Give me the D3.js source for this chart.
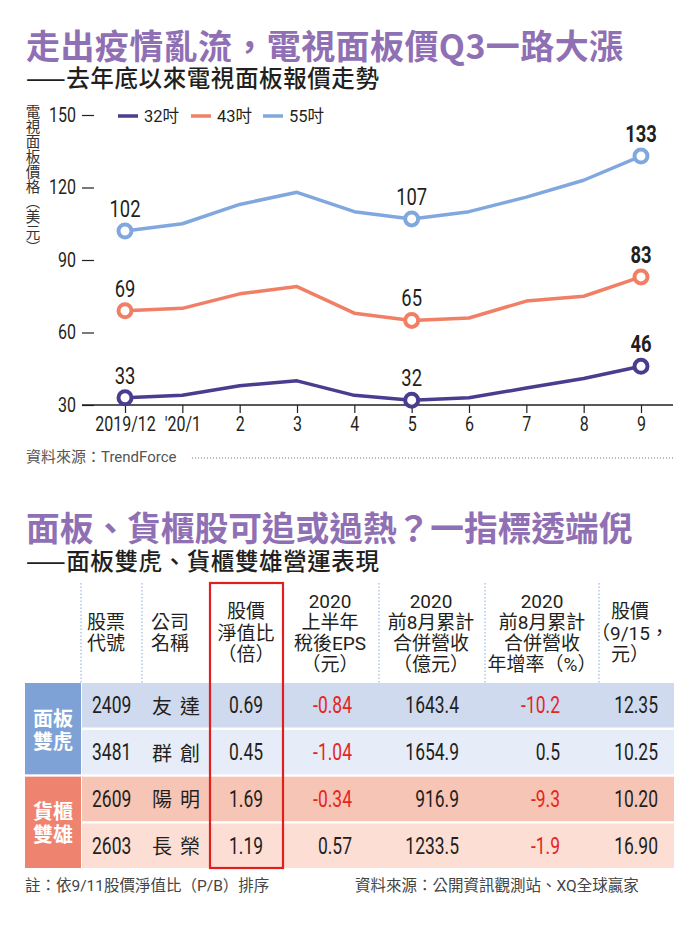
<!DOCTYPE html>
<html>
<head>
<meta charset="utf-8">
<script src="https://cdn.jsdelivr.net/npm/d3@7"></script>
<style>
html,body{margin:0;padding:0;background:#fff;}
svg{display:block;}
</style>
</head>
<body>
<div id="chart"></div>
<script>
// ---------- data: line chart ----------
const months = ["2019/12","'20/1","2","3","4","5","6","7","8","9"];
const series32 = [33, 34, 38, 40, 34, 32, 33, 37, 41, 46];
const series43 = [69, 70, 76, 79, 68, 65, 66, 73, 75, 83];
const series55 = [102, 105, 113, 118, 110, 107, 110, 116, 123, 133];
const seriesNames = ["32吋","43吋","55吋"];
const yTicks = [30, 60, 90, 120, 150];
const labeledIdx = [0, 5, 9];

// ---------- data: table ----------
const groups = ["面板雙虎","貨櫃雙雄"];
const codes = ["2409","3481","2609","2603"];
const names = ["友達","群創","陽明","長榮"];
const pbRatio = [0.69, 0.45, 1.69, 1.19];
const eps = [-0.84, -1.04, -0.34, 0.57];
const revenue = [1643.4, 1654.9, 916.9, 1233.5];
const revenueYoY = [-10.2, 0.5, -9.3, -1.9];
const price = [12.35, 10.25, 10.20, 16.90];
const headers = [
  ["股票","代號"],
  ["公司","名稱"],
  ["股價","淨值比","（倍）"],
  ["2020","上半年","稅後EPS","（元）"],
  ["2020","前8月累計","合併營收","（億元）"],
  ["2020","前8月累計","合併營收","年增率（%）"],
  ["股價","（9/15，","元）"]
];

// ---------- styles ----------
const CJK = "'Noto Sans CJK TC','Noto Sans CJK SC',sans-serif";
const NUM = "Roboto,'Noto Sans CJK TC',sans-serif";
const PURPLE = "#9070b4";
const colors = ["#4a3d8f", "#f07f66", "#80a8de"];
const RED = "#e5261f";
const INK = "#231f20";

const svg = d3.select("#chart").append("svg").attr("width", 700).attr("height", 925);

// condensed number text helper
function ctext(x, y, txt, o) {
  const t = svg.append("text")
    .attr("transform", `translate(${x},${y}) scale(${o.sx || 0.78},1)`)
    .attr("text-anchor", o.anchor || "middle")
    .attr("font-family", NUM).attr("font-size", o.size || 23)
    .attr("font-weight", o.weight || 400)
    .attr("fill", o.fill || INK).text(txt);
  if (o.central) t.attr("dominant-baseline", "central");
  return t;
}

// ---------- titles ----------
svg.append("text").attr("x", 26).attr("y", 59)
  .attr("font-family", CJK).attr("font-weight", 700).attr("font-size", 34)
  .attr("letter-spacing", 0.4)
  .attr("fill", PURPLE).text("走出疫情亂流，電視面板價Q3一路大漲");
svg.append("text").attr("x", 26).attr("y", 87)
  .attr("font-family", CJK).attr("font-weight", 500).attr("font-size", 23.5)
  .attr("letter-spacing", 0.6)
  .attr("fill", INK).text("——去年底以來電視面板報價走勢");

// ---------- line chart ----------
const x = d3.scalePoint().domain(months).range([125, 641]);
const y = d3.scaleLinear().domain([30, 150]).range([405, 115]);

// y axis
const yAxis = svg.append("g").attr("transform", "translate(94,0)")
  .call(d3.axisLeft(y).tickValues(yTicks).tickSize(12).tickPadding(6));
yAxis.select(".domain").remove();
yAxis.selectAll(".tick line").attr("stroke", INK).attr("stroke-width", 1.2);
yAxis.selectAll(".tick text").attr("font-family", NUM).attr("font-size", 20).attr("fill", INK)
  .each(function () {
    const t = d3.select(this); const xx = +t.attr("x");
    t.attr("x", 0).attr("transform", `translate(${xx},0) scale(0.8,1)`);
  });

// y title (vertical)
svg.append("text").attr("x", 33).attr("y", 104)
  .style("writing-mode", "vertical-rl")
  .attr("font-family", CJK).attr("font-size", 14.5).attr("fill", "#333")
  .attr("letter-spacing", 0.6)
  .text("電視面板價格（美元）");

// x axis
svg.append("line").attr("x1", 82).attr("x2", 673).attr("y1", 405).attr("y2", 405)
  .attr("stroke", INK).attr("stroke-width", 1.5);
const xAxis = svg.append("g").attr("transform", "translate(0,405)")
  .call(d3.axisBottom(x).tickSize(8).tickPadding(4));
xAxis.select(".domain").remove();
xAxis.selectAll(".tick line").attr("stroke", INK).attr("stroke-width", 1.2);
xAxis.selectAll(".tick text").attr("font-family", NUM).attr("font-size", 20).attr("fill", INK)
  .each(function () {
    const t = d3.select(this); const yy = +t.attr("y");
    t.attr("y", 0).attr("transform", `translate(0,${yy}) scale(0.8,1)`);
  });

// legend
const legendX = [118, 191, 263];
seriesNames.forEach((n, i) => {
  svg.append("line").attr("x1", legendX[i]).attr("x2", legendX[i] + 20)
    .attr("y1", 116).attr("y2", 116).attr("stroke", colors[i]).attr("stroke-width", 3.5);
  svg.append("text").attr("x", legendX[i] + 26).attr("y", 116)
    .attr("dominant-baseline", "central")
    .attr("font-family", NUM).attr("font-size", 16.5).attr("fill", INK).text(n);
});

// lines
const allSeries = [series32, series43, series55];
const line = d3.line().x((d, i) => x(months[i])).y(d => y(d));
allSeries.forEach((s, si) => {
  svg.append("path").datum(s).attr("d", line)
    .attr("fill", "none").attr("stroke", colors[si]).attr("stroke-width", 3.5)
    .attr("stroke-linejoin", "round");
});
allSeries.forEach((s, si) => {
  labeledIdx.forEach(i => {
    svg.append("circle").attr("cx", x(months[i])).attr("cy", y(s[i])).attr("r", 6.5)
      .attr("fill", "#fff").attr("stroke", colors[si]).attr("stroke-width", 4);
    ctext(x(months[i]), y(s[i]) - 14, s[i], { size: 23, sx: 0.8, weight: i === 9 ? 700 : 400 });
  });
});

// source
svg.append("text").attr("x", 26).attr("y", 457).attr("dominant-baseline", "central")
  .attr("font-family", NUM).attr("font-size", 15).attr("fill", "#555")
  .text("資料來源：TrendForce");
svg.append("line").attr("x1", 192).attr("x2", 673).attr("y1", 458).attr("y2", 458)
  .attr("stroke", "#777").attr("stroke-width", 1).attr("stroke-dasharray", "1,2");

// ---------- second title ----------
svg.append("text").attr("x", 26).attr("y", 541)
  .attr("font-family", CJK).attr("font-weight", 700).attr("font-size", 33.7)
  .attr("fill", PURPLE).text("面板、貨櫃股可追或過熱？一指標透端倪");
svg.append("text").attr("x", 26).attr("y", 570)
  .attr("font-family", CJK).attr("font-weight", 500).attr("font-size", 23.5)
  .attr("letter-spacing", 0.6)
  .attr("fill", INK).text("——面板雙虎、貨櫃雙雄營運表現");

// ---------- table ----------
const headerX = [106, 170, 246, 330, 431, 542, 630];
const sepX = [81, 142, 379, 485, 599];
sepX.forEach(sx => {
  svg.append("line").attr("x1", sx).attr("x2", sx).attr("y1", 583).attr("y2", 683)
    .attr("stroke", "#86a9dd").attr("stroke-width", 1).attr("stroke-dasharray", "1.5,2");
});
const HC = 633, LH = 21.3;
headers.forEach((lines, ci) => {
  lines.forEach((ln, li) => {
    svg.append("text").attr("x", headerX[ci])
      .attr("y", HC + (li - (lines.length - 1) / 2) * LH)
      .attr("text-anchor", "middle").attr("dominant-baseline", "central")
      .attr("font-family", NUM).attr("font-size", 19).attr("fill", INK).text(ln);
  });
});

const rowY = d3.scaleBand().domain(codes).range([683, 868]).paddingInner(0.05);
const rowFill = ["#cfdaef", "#e7edf8", "#f7c5b5", "#fcded4"];
const groupFill = ["#7fa2d6", "#ee8470"];

codes.forEach((c, i) => {
  svg.append("rect").attr("x", 82).attr("y", rowY(c)).attr("width", 592)
    .attr("height", rowY.bandwidth()).attr("fill", rowFill[i]);
});
groups.forEach((g, gi) => {
  const y0 = rowY(codes[gi * 2]);
  const y1 = rowY(codes[gi * 2 + 1]) + rowY.bandwidth();
  svg.append("rect").attr("x", 25).attr("y", y0).attr("width", 56).attr("height", y1 - y0)
    .attr("fill", groupFill[gi]);
  [g.slice(0, 2), g.slice(2)].forEach((ln, li) => {
    svg.append("text").attr("x", 53).attr("y", (y0 + y1) / 2 + (li - 0.5) * 23)
      .attr("text-anchor", "middle").attr("dominant-baseline", "central")
      .attr("font-family", CJK).attr("font-weight", 700).attr("font-size", 20)
      .attr("fill", "#fff").text(ln);
  });
});

const fmt = (v, d) => v.toFixed(d);
codes.forEach((c, i) => {
  const cy = rowY(c) + rowY.bandwidth() / 2;
  const o = { size: 23, sx: 0.76, central: true };
  ctext(92, cy, c, Object.assign({}, o, { anchor: "start" }));
  svg.append("text").attr("x", 152).attr("y", cy).attr("dominant-baseline", "central")
    .attr("font-family", CJK).attr("font-size", 20).attr("letter-spacing", 8)
    .attr("fill", INK).text(names[i]);
  ctext(246, cy, fmt(pbRatio[i], 2), Object.assign({}, o, { anchor: "middle" }));
  ctext(352, cy, fmt(eps[i], 2), Object.assign({}, o, { anchor: "end", fill: eps[i] < 0 ? RED : INK }));
  ctext(459, cy, fmt(revenue[i], 1), Object.assign({}, o, { anchor: "end" }));
  ctext(560, cy, fmt(revenueYoY[i], 1), Object.assign({}, o, { anchor: "end", fill: revenueYoY[i] < 0 ? RED : INK }));
  ctext(658, cy, fmt(price[i], 2), Object.assign({}, o, { anchor: "end" }));
});

// red highlight box
svg.append("rect").attr("x", 210).attr("y", 583).attr("width", 73).attr("height", 285)
  .attr("fill", "none").attr("stroke", "#e0201f").attr("stroke-width", 2.2);

// footnotes
svg.append("text").attr("x", 25).attr("y", 886).attr("dominant-baseline", "central")
  .attr("font-family", NUM).attr("font-size", 15.5).attr("fill", "#444")
  .text("註：依9/11股價淨值比（P/B）排序");
svg.append("text").attr("x", 355).attr("y", 886).attr("dominant-baseline", "central")
  .attr("font-family", NUM).attr("font-size", 15.5).attr("fill", "#444")
  .text("資料來源：公開資訊觀測站、XQ全球贏家");
</script>
</body>
</html>
